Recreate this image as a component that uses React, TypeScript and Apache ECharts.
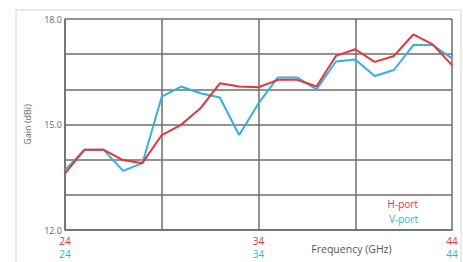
import React, { useEffect, useRef } from "react";
import * as echarts from "echarts";

const freqs = [24, 25, 26, 27, 28, 29, 30, 31, 32, 33, 34, 35, 36, 37, 38, 39, 40, 41, 42, 43, 44];
const hPort = [13.61, 14.28, 14.28, 13.99, 13.9, 14.7, 14.99, 15.46, 16.17, 16.08, 16.06, 16.27, 16.27, 16.08, 16.95, 17.14, 16.78, 16.95, 17.56, 17.28, 16.69];
const vPort = [13.71, 14.28, 14.28, 13.68, 13.9, 15.79, 16.08, 15.89, 15.77, 14.7, 15.6, 16.34, 16.34, 16.0, 16.79, 16.85, 16.38, 16.55, 17.26, 17.26, 16.88];
const xTickLabels = [24, 34, 44];
const yTickLabels = [12, 15, 18];

const RED = "#e8333b";
const BLUE = "#2fb2e6";
const GRID = "#6e6e6e";

export default function App() {
  const ref = useRef<HTMLDivElement>(null);
  useEffect(() => {
    if (!ref.current) return;
    const chart = echarts.init(ref.current, undefined, { renderer: "svg" });
    chart.setOption({
      animation: false,
      backgroundColor: "#ffffff",
      textStyle: { fontFamily: "Open Sans" },
      graphic: [
        {
          type: "rect",
          shape: { x: 16, y: 10, width: 445, height: 262 },
          style: { fill: "none", stroke: "#d4d4d4", lineWidth: 1 },
          silent: true,
        },
      ],
      grid: { left: 65, right: 11, top: 19, bottom: 32, outerBoundsMode: "none", containLabel: false },
      legend: {
        orient: "vertical",
        right: 40,
        top: 199,
        icon: "none",
        itemWidth: 0,
        itemHeight: 10,
        itemGap: 5,
        align: "right",
        padding: 0,
        textStyle: { fontSize: 10 },
        data: [
          { name: "H-port", textStyle: { color: RED } },
          { name: "V-port", textStyle: { color: BLUE } },
        ],
      },
      xAxis: {
        type: "value",
        min: 24,
        max: 44,
        interval: 5,
        name: "Frequency (GHz)",
        nameLocation: "middle",
        nameGap: 13,
        nameMoveOverlap: false,
        nameTextStyle: { color: "#555", fontSize: 10.5, padding: [0, 0, 0, 186] },
        axisLine: { show: true, lineStyle: { color: GRID, width: 1.5 } },
        axisTick: { show: false },
        splitLine: { show: true, lineStyle: { color: GRID, width: 1.5 } },
        axisLabel: {
          margin: 4,
          lineHeight: 13,
          formatter: (v: number) =>
            xTickLabels.includes(v) ? `{r|${v}}\n{b|${v}}` : "",
          rich: {
            r: { color: RED, fontSize: 10, lineHeight: 13 },
            b: { color: BLUE, fontSize: 10, lineHeight: 13 },
          },
        },
      },
      yAxis: {
        type: "value",
        min: 12,
        max: 18,
        interval: 1,
        name: "Gain (dBi)",
        nameLocation: "middle",
        nameGap: 33,
        nameMoveOverlap: false,
        nameTextStyle: { color: "#666", fontSize: 9 },
        axisLine: { show: true, lineStyle: { color: GRID, width: 1.5 } },
        axisTick: { show: false },
        splitLine: { show: true, lineStyle: { color: GRID, width: 1.5 } },
        axisLabel: {
          margin: 3,
          color: "#666",
          fontSize: 9,
          formatter: (v: number) => (yTickLabels.includes(v) ? v.toFixed(1) : ""),
        },
      },
      series: [
        {
          name: "H-port",
          type: "line",
          data: freqs.map((f, i) => [f, hPort[i]]),
          showSymbol: false,
          lineStyle: { color: RED, width: 2 },
          itemStyle: { color: RED },
          z: 3,
        },
        {
          name: "V-port",
          type: "line",
          data: freqs.map((f, i) => [f, vPort[i]]),
          showSymbol: false,
          lineStyle: { color: BLUE, width: 2 },
          itemStyle: { color: BLUE },
          z: 2,
        },
      ],
    });
    return () => chart.dispose();
  }, []);
  return (
    <div
      ref={ref}
      style={{ position: "fixed", left: 0, top: 0, width: 463, height: 262 }}
    />
  );
}
